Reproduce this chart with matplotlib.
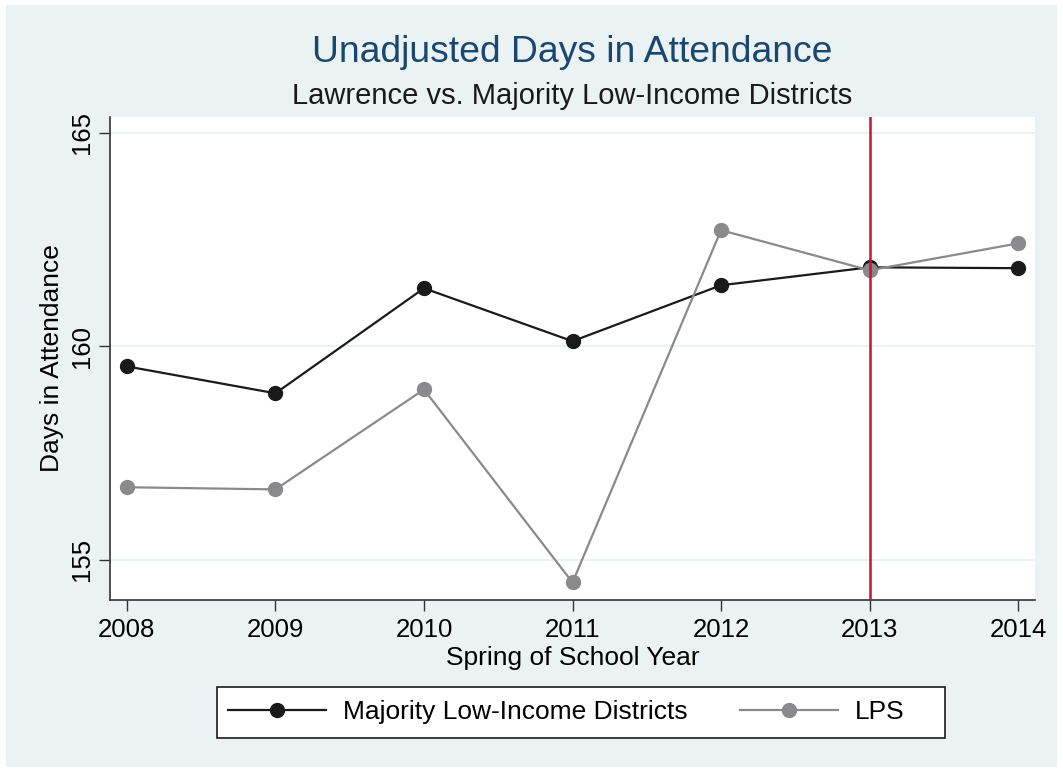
import matplotlib
matplotlib.use('Agg')
import matplotlib.pyplot as plt
from matplotlib.patches import Rectangle

# donnees
years = [2008, 2009, 2010, 2011, 2012, 2013, 2014]
low_income = [159.53, 158.90, 161.36, 160.12, 161.43, 161.85, 161.83]
lps = [156.70, 156.65, 158.99, 154.47, 162.72, 161.78, 162.41]
y_ticks = [155, 160, 165]
policy_year = 2013

plt.rcParams['font.family'] = ['Liberation Sans', 'DejaVu Sans']

W, H = 1063, 772
bg = '#EAF2F3'
fig = plt.figure(figsize=(W / 100, H / 100), dpi=100)
fig.patch.set_facecolor('white')
fig.patches.append(Rectangle((6 / W, 5 / H), 1051 / W, 762 / H,
                             transform=fig.transFigure, facecolor=bg,
                             edgecolor='none', zorder=-10))

ax = fig.add_axes([110 / W, 1 - 600 / H, 925 / W, 483 / H])
ax.set_facecolor('white')

ax.plot(years, low_income, color='#1a1a1a', lw=1.6, marker='o', ms=10,
        label='Majority Low-Income Districts', zorder=3)
ax.plot(years, lps, color='#8a8a8c', lw=1.6, marker='o', ms=10,
        label='LPS', zorder=4)
ax.axvline(policy_year, color='#C4122F', lw=1.8, zorder=5)

ax.set_xlim(2007.886, 2014.114)
ax.set_ylim(154.06, 165.37)
ax.set_xticks(years)
ax.set_yticks(y_ticks)
ax.set_yticklabels([str(t) for t in y_ticks], rotation=90, va='center')
ax.tick_params(axis='both', labelsize=18.5, length=8, width=1, color='#333333')
ax.tick_params(axis='x', pad=5)
ax.grid(axis='y', color=bg, lw=1.5)
ax.set_axisbelow(True)

for s in ['top', 'right']:
    ax.spines[s].set_visible(False)
for s in ['left', 'bottom']:
    ax.spines[s].set_color('#333333')
    ax.spines[s].set_linewidth(1.2)

ax.set_xlabel('Spring of School Year', fontsize=19, labelpad=3)
ax.set_ylabel('Days in Attendance', fontsize=19, labelpad=4)

cx = (110 + 1035) / 2 / W
fig.text(cx, 1 - 52 / H, 'Unadjusted Days in Attendance', ha='center',
         va='center', fontsize=26.8, color='#1A476F')
fig.text(cx, 1 - 96 / H, 'Lawrence vs. Majority Low-Income Districts',
         ha='center', va='center', fontsize=21, color='#1a1a1a')

# cadre de la legende dessine a part (padding a droite plus large)
fig.patches.append(Rectangle((217 / W, 1 - 738 / H), 728 / W, 51 / H,
                             transform=fig.transFigure, facecolor='white',
                             edgecolor='#1a1a1a', lw=1.2, zorder=1))
leg = fig.legend(loc='center left', bbox_to_anchor=(228 / W, 1 - 712 / H),
                 ncol=2, fontsize=19, frameon=False, handlelength=3.7,
                 columnspacing=2.0, handletextpad=0.65, borderpad=0,
                 borderaxespad=0)
leg.set_zorder(2)

plt.savefig('out.png', dpi=100, facecolor=fig.get_facecolor())
